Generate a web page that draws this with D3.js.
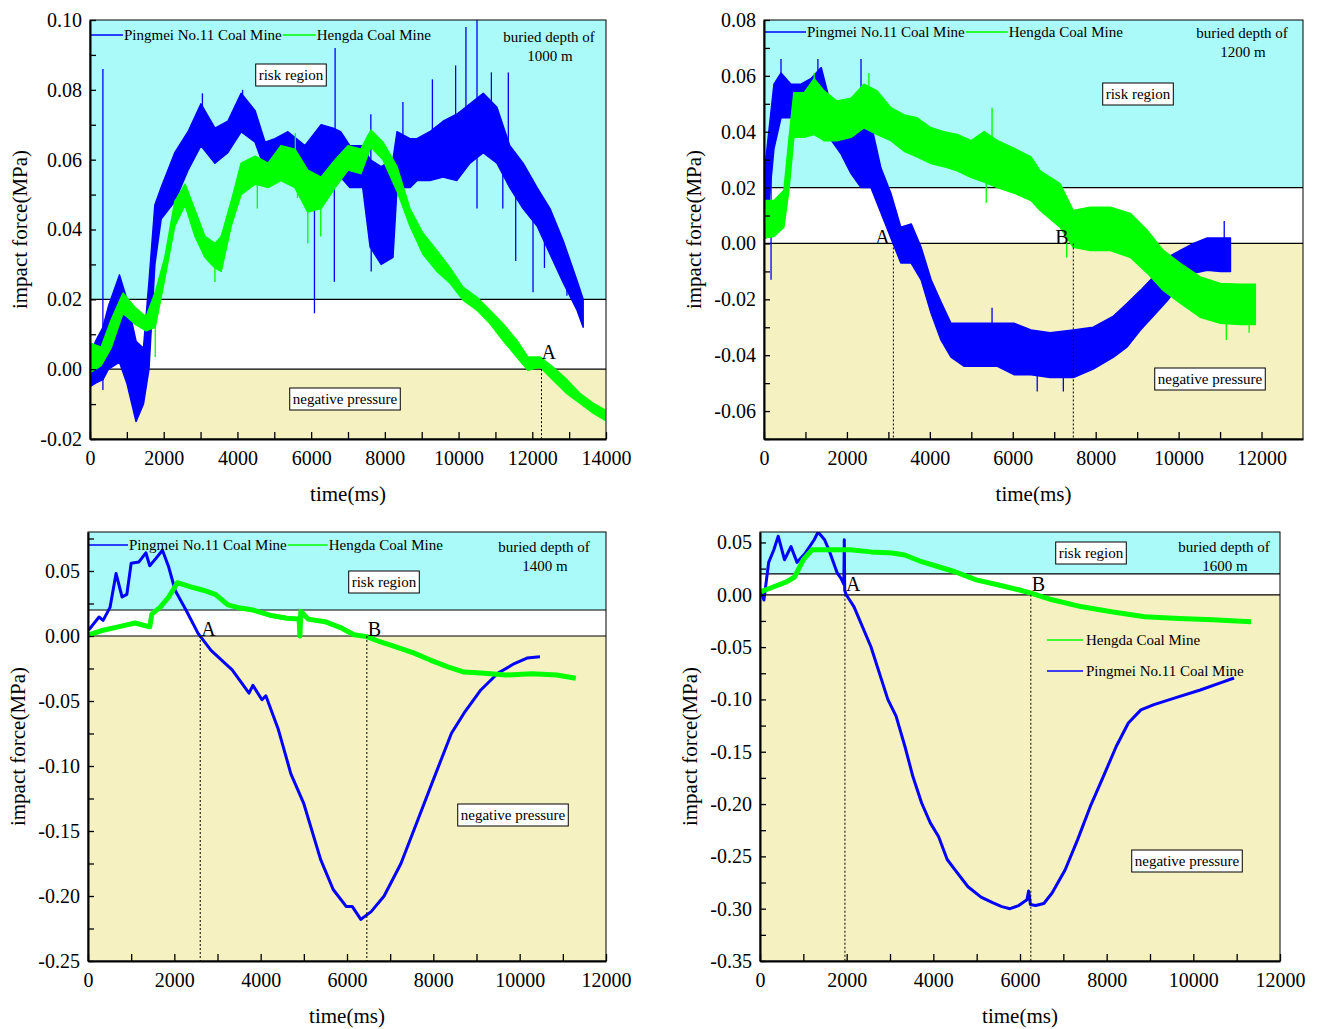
<!DOCTYPE html>
<html>
<head>
<meta charset="UTF-8">
<title>impact force</title>
<script src="https://cdn.jsdelivr.net/npm/d3@7"></script>
<style>
body { margin: 0; background: #fff; }
svg, svg text { font-family: "Times New Roman", "Liberation Serif", serif !important; }
</style>
</head>
<body>
<script>
// ---- data (time in ms, force in MPa) ----
var riskLevel = 0.02;
var seriesNames = ["Pingmei No.11 Coal Mine", "Hengda Coal Mine"];
var depthLabels = ["1000 m", "1200 m", "1400 m", "1600 m"];

// 1000 m : noisy bands (low / high edge) plus single spikes
var d1000BlueT  = [0, 150, 350, 500, 800, 1000, 1250, 1450, 1600, 1760, 1930, 2300, 2660, 3010, 3390, 3740, 4100, 4480, 4750, 5020, 5370, 5830, 6270, 6600, 6800, 7050, 7400, 7600, 7900, 8220, 8330, 8680, 8870, 9220, 9580, 9950, 10310, 10670, 11040, 11390, 11750, 12130, 12480, 12830, 13210, 13380];
var d1000BlueLo = [-0.005, -0.004, -0.003, 0.000, 0.002, -0.004, -0.015, -0.010, 0.000, 0.030, 0.043, 0.048, 0.057, 0.064, 0.059, 0.062, 0.068, 0.065, 0.057, 0.058, 0.059, 0.050, 0.055, 0.054, 0.055, 0.052, 0.052, 0.035, 0.030, 0.032, 0.052, 0.052, 0.054, 0.054, 0.055, 0.054, 0.059, 0.062, 0.059, 0.052, 0.046, 0.041, 0.033, 0.025, 0.017, 0.012];
var d1000BlueHi = [0.003, 0.008, 0.012, 0.018, 0.027, 0.020, 0.008, 0.006, 0.025, 0.047, 0.052, 0.062, 0.068, 0.076, 0.069, 0.071, 0.079, 0.074, 0.065, 0.066, 0.068, 0.064, 0.070, 0.069, 0.068, 0.064, 0.064, 0.060, 0.058, 0.060, 0.068, 0.066, 0.066, 0.068, 0.071, 0.073, 0.076, 0.079, 0.075, 0.064, 0.059, 0.052, 0.046, 0.037, 0.0255, 0.020];
var d1000BlueSpikeT = [350, 350, 3050, 4140, 6090, 6630, 6650, 7620, 7630, 8490, 9290, 9920, 10200, 10500, 10500, 10890, 11200, 11350, 11550, 12020, 12330, 12940];
var d1000BlueSpikeV = [0.086, -0.006, 0.079, 0.080, 0.016, 0.025, 0.092, 0.073, 0.028, 0.0765, 0.083, 0.087, 0.098, 0.100, 0.046, 0.085, 0.046, 0.085, 0.031, 0.022, 0.029, 0.021];
var d1000GreenT  = [0, 300, 570, 895, 1210, 1520, 1770, 2030, 2300, 2580, 2850, 3120, 3390, 3560, 3830, 4100, 4480, 4830, 5180, 5560, 5910, 6270, 6650, 7000, 7350, 7620, 7950, 8330, 8680, 9030, 9410, 9770, 10120, 10500, 10850, 11200, 11580, 11880, 12210, 12560, 12940, 13290, 13650, 13970];
var d1000GreenLo = [-0.001, 0.001, 0.006, 0.016, 0.013, 0.011, 0.012, 0.026, 0.041, 0.047, 0.038, 0.032, 0.029, 0.028, 0.041, 0.050, 0.053, 0.052, 0.054, 0.052, 0.045, 0.046, 0.052, 0.057, 0.056, 0.0636, 0.060, 0.051, 0.041, 0.033, 0.028, 0.0246, 0.0198, 0.0169, 0.0131, 0.0083, 0.0035, -0.0003, 0.0006, -0.0031, -0.007, -0.0097, -0.0126, -0.0146];
var d1000GreenHi = [0.0075, 0.0063, 0.014, 0.0218, 0.0178, 0.015, 0.022, 0.032, 0.048, 0.053, 0.0455, 0.038, 0.036, 0.038, 0.048, 0.059, 0.061, 0.059, 0.064, 0.063, 0.057, 0.055, 0.060, 0.064, 0.063, 0.0685, 0.065, 0.058, 0.046, 0.039, 0.034, 0.029, 0.0235, 0.0206, 0.0169, 0.0131, 0.0083, 0.0035, 0.0035, 0.0006, -0.003, -0.0069, -0.0097, -0.0117];
var d1000GreenSpikeT = [1770, 3390, 4540, 5570, 5630, 5910, 6260];
var d1000GreenSpikeV = [0.0035, 0.025, 0.046, 0.0676, 0.049, 0.036, 0.038];
var d1000MarkT = [12250];
var d1000MarkName = ["A"];

// 1200 m
var d1200BlueT  = [40, 240, 410, 650, 890, 1130, 1380, 1620, 1860, 2100, 2340, 2580, 2820, 3060, 3300, 3550, 3790, 4030, 4270, 4510, 4830, 5240, 5630, 6040, 6440, 6900, 7460, 7940, 8430, 8760, 9080, 9390, 9730, 10040, 10360, 10690, 11010, 11250];
var d1200BlueLo = [0.002, 0.034, 0.045, 0.045, 0.0475, 0.0475, 0.054, 0.037, 0.032, 0.025, 0.020, 0.020, 0.011, 0.002, -0.007, -0.007, -0.013, -0.025, -0.0346, -0.0407, -0.044, -0.044, -0.044, -0.047, -0.047, -0.048, -0.048, -0.045, -0.0407, -0.037, -0.031, -0.026, -0.0204, -0.0143, -0.0107, -0.0096, -0.010, -0.010];
var d1200BlueHi = [0.0296, 0.057, 0.061, 0.057, 0.057, 0.059, 0.063, 0.049, 0.044, 0.039, 0.043, 0.043, 0.027, 0.018, 0.0058, 0.007, -0.0014, -0.013, -0.021, -0.0286, -0.0286, -0.0286, -0.0286, -0.0286, -0.031, -0.032, -0.031, -0.030, -0.026, -0.0214, -0.0168, -0.012, -0.005, -0.0025, 0.000, 0.002, 0.002, 0.002];
var d1200BlueSpikeT = [170, 410, 1300, 2340, 5500, 6590, 7220, 11100];
var d1200BlueSpikeV = [-0.013, 0.066, 0.066, 0.066, -0.023, -0.053, -0.053, 0.008];
var d1200GreenT  = [40, 240, 480, 600, 720, 970, 1210, 1450, 1760, 2100, 2410, 2730, 3060, 3380, 3690, 4030, 4340, 4660, 5000, 5310, 5630, 6040, 6440, 6660, 7140, 7460, 7870, 8350, 8840, 9250, 9630, 10040, 10520, 11010, 11490, 11850];
var d1200GreenLo = [0.002, 0.0025, 0.0058, 0.019, 0.038, 0.038, 0.039, 0.0368, 0.0368, 0.038, 0.0414, 0.039, 0.0368, 0.033, 0.031, 0.0286, 0.0275, 0.026, 0.0236, 0.022, 0.020, 0.018, 0.0154, 0.0118, 0.0058, -0.0014, -0.0025, -0.0025, -0.005, -0.0107, -0.0168, -0.0214, -0.0264, -0.0286, -0.029, -0.029];
var d1200GreenHi = [0.0154, 0.0154, 0.019, 0.037, 0.054, 0.054, 0.059, 0.0546, 0.051, 0.052, 0.057, 0.0546, 0.0486, 0.046, 0.045, 0.0414, 0.040, 0.039, 0.0368, 0.040, 0.0368, 0.034, 0.031, 0.026, 0.0214, 0.0118, 0.013, 0.013, 0.0107, 0.0046, -0.0025, -0.0071, -0.012, -0.0143, -0.0146, -0.0146];
var d1200GreenSpikeT = [1210, 2530, 5360, 5500, 7300, 11150, 11700];
var d1200GreenSpikeV = [0.061, 0.061, 0.0146, 0.0486, -0.005, -0.0346, -0.032];
var d1200MarkT = [3120, 7460];
var d1200MarkName = ["A", "B"];

// 1400 m : smooth traces
var d1400BlueT = [15, 255, 350, 510, 650, 790, 900, 1000, 1180, 1340, 1430, 1570, 1725, 1870, 2020, 2270, 2550, 2850, 3340, 3730, 3820, 4030, 4120, 4410, 4700, 5000, 5390, 5680, 5980, 6120, 6320, 6560, 6860, 7250, 7640, 8030, 8420, 8710, 9100, 9500, 9890, 10170, 10470];
var d1400BlueV = [0.0046, 0.0146, 0.012, 0.022, 0.048, 0.030, 0.032, 0.056, 0.057, 0.064, 0.054, 0.0595, 0.066, 0.053, 0.035, 0.020, 0.002, -0.011, -0.026, -0.044, -0.038, -0.049, -0.046, -0.072, -0.106, -0.129, -0.172, -0.195, -0.208, -0.208, -0.218, -0.212, -0.200, -0.175, -0.1415, -0.108, -0.0748, -0.0594, -0.0415, -0.0285, -0.021, -0.017, -0.016];
var d1400GreenT = [15, 300, 700, 1090, 1430, 1480, 1670, 1870, 2070, 2360, 2650, 2950, 3240, 3530, 3820, 4210, 4610, 4890, 4910, 4930, 5100, 5490, 5880, 6160, 6460, 6760, 7150, 7540, 7930, 8320, 8710, 9100, 9690, 10280, 10860, 11300];
var d1400GreenV = [0.0008, 0.004, 0.007, 0.010, 0.007, 0.017, 0.022, 0.030, 0.041, 0.038, 0.0354, 0.032, 0.024, 0.0215, 0.020, 0.016, 0.0136, 0.013, 0.000, 0.019, 0.013, 0.011, 0.006, 0.001, -0.0005, -0.0044, -0.0085, -0.013, -0.0185, -0.0236, -0.0277, -0.0285, -0.030, -0.029, -0.030, -0.0325];
var d1400MarkT = [2600, 6460];
var d1400MarkName = ["A", "B"];

// 1600 m
var d1600BlueT = [25, 90, 200, 320, 420, 565, 715, 855, 1050, 1250, 1340, 1490, 1590, 1780, 1870, 1935, 1945, 1955, 1990, 2170, 2560, 2950, 3140, 3345, 3530, 3730, 3930, 4120, 4320, 4500, 4800, 5100, 5380, 5580, 5770, 5970, 6160, 6200, 6240, 6360, 6550, 6740, 7040, 7330, 7620, 7920, 8220, 8500, 8790, 9090, 9580, 10160, 10640, 10940];
var d1600BlueV = [0.002, -0.005, 0.031, 0.043, 0.056, 0.0335, 0.046, 0.031, 0.040, 0.0526, 0.060, 0.0526, 0.043, 0.021, 0.0156, 0.010, 0.0526, 0.004, 0.000, -0.0115, -0.0497, -0.100, -0.116, -0.145, -0.174, -0.199, -0.218, -0.231, -0.253, -0.263, -0.279, -0.289, -0.2945, -0.298, -0.300, -0.297, -0.2915, -0.283, -0.296, -0.297, -0.295, -0.285, -0.263, -0.234, -0.2025, -0.174, -0.145, -0.1225, -0.110, -0.105, -0.0985, -0.091, -0.084, -0.0795];
var d1600GreenT = [25, 320, 610, 800, 1000, 1200, 1590, 2080, 2560, 3050, 3340, 3730, 4120, 4500, 4990, 5480, 5970, 6250, 6740, 7430, 8110, 8880, 9670, 10450, 11330];
var d1600GreenV = [0.003, 0.0077, 0.0124, 0.017, 0.0335, 0.043, 0.043, 0.043, 0.041, 0.040, 0.038, 0.0316, 0.0268, 0.022, 0.0143, 0.0096, 0.0048, 0.0016, -0.0048, -0.0115, -0.0163, -0.021, -0.0226, -0.0239, -0.0258];
var d1600MarkT = [1960, 6250];
var d1600MarkName = ["A", "B"];

// axis ticks
var xTicks14000 = [0, 2000, 4000, 6000, 8000, 10000, 12000, 14000];
var xMinor14000 = [1000, 3000, 5000, 7000, 9000, 11000, 13000];
var xTicks12000 = [0, 2000, 4000, 6000, 8000, 10000, 12000];
var xMinor12000 = [1000, 3000, 5000, 7000, 9000, 11000];
var yTicks1000 = [-0.02, 0.00, 0.02, 0.04, 0.06, 0.08, 0.10];
var yMinor1000 = [-0.01, 0.01, 0.03, 0.05, 0.07, 0.09];
var yTicks1200 = [-0.06, -0.04, -0.02, 0.00, 0.02, 0.04, 0.06, 0.08];
var yMinor1200 = [-0.07, -0.05, -0.03, -0.01, 0.01, 0.03, 0.05, 0.07];
var yTicks1400 = [-0.25, -0.20, -0.15, -0.10, -0.05, 0.00, 0.05];
var yMinor1400 = [-0.225, -0.175, -0.125, -0.075, -0.025, 0.025, 0.075];
var yTicks1600 = [-0.35, -0.30, -0.25, -0.20, -0.15, -0.10, -0.05, 0.00, 0.05];
var yMinor1600 = [-0.325, -0.275, -0.225, -0.175, -0.125, -0.075, -0.025, 0.025];

var BLUE = "#0000ff", GREEN = "#00ff00";
var CYAN = "#aafafa", YELLOW = "#f5f1c0";
var SERIF = '"Times New Roman", "Liberation Serif", serif';

function zip(t, a, b){
    return t.map(function(d, i){ return {t: d, lo: a[i], hi: b ? b[i] : a[i]}; });
}
function spikes(t, v){
    return t.map(function(d, i){ return {t: d, v: v[i]}; });
}

var panels = [
    {left: 90, right: 606, top: 20, bottom: 439, xDomain: [0, 14000], yDomain: [-0.02, 0.10],
     xTicks: xTicks14000, xMinor: xMinor14000, yTicks: yTicks1000, yMinor: yMinor1000,
     band: true,
     blue: zip(d1000BlueT, d1000BlueLo, d1000BlueHi), blueSpikes: spikes(d1000BlueSpikeT, d1000BlueSpikeV),
     green: zip(d1000GreenT, d1000GreenLo, d1000GreenHi), greenSpikes: spikes(d1000GreenSpikeT, d1000GreenSpikeV),
     markT: d1000MarkT, markName: d1000MarkName, markDx: 0, markDy: -10,
     depth: depthLabels[0], depthDx: -57, depthDy: 17,
     legend: "row", legendY: 35, seg: 33,
     risk: [201, 55], neg: [255, 379]},
    {left: 764, right: 1303, top: 20, bottom: 439, xDomain: [0, 13000], yDomain: [-0.07, 0.08],
     xTicks: xTicks12000, xMinor: xMinor12000, yTicks: yTicks1200, yMinor: yMinor1200,
     band: true,
     blue: zip(d1200BlueT, d1200BlueLo, d1200BlueHi), blueSpikes: spikes(d1200BlueSpikeT, d1200BlueSpikeV),
     green: zip(d1200GreenT, d1200GreenLo, d1200GreenHi), greenSpikes: spikes(d1200GreenSpikeT, d1200GreenSpikeV),
     markT: d1200MarkT, markName: d1200MarkName, markDx: -18, markDy: 1,
     depth: depthLabels[1], depthDx: -61, depthDy: 13,
     legend: "row", legendY: 32, seg: 42,
     risk: [374, 74], neg: [446, 359]},
    {left: 88, right: 606, top: 532, bottom: 961, xDomain: [0, 12000], yDomain: [-0.25, 0.08],
     xTicks: xTicks12000, xMinor: xMinor12000, yTicks: yTicks1400, yMinor: yMinor1400,
     band: false,
     blue: zip(d1400BlueT, d1400BlueV), green: zip(d1400GreenT, d1400GreenV),
     markT: d1400MarkT, markName: d1400MarkName, markDx: 1, markDy: 0,
     depth: depthLabels[2], depthDx: -62, depthDy: 15,
     legend: "row", legendY: 545, seg: 40,
     risk: [296, 50], neg: [425, 283]},
    {left: 760, right: 1280, top: 532, bottom: 961, xDomain: [0, 12000], yDomain: [-0.35, 0.06],
     xTicks: xTicks12000, xMinor: xMinor12000, yTicks: yTicks1600, yMinor: yMinor1600,
     band: false,
     blue: zip(d1600BlueT, d1600BlueV), green: zip(d1600GreenT, d1600GreenV),
     markT: d1600MarkT, markName: d1600MarkName, markDx: 1, markDy: -4,
     depth: depthLabels[3], depthDx: -56, depthDy: 15,
     legend: "column", legendX: 1047, legendY: 640, seg: 36,
     risk: [331, 21], neg: [427, 329]}
];

var svg = d3.select("body").append("svg")
    .attr("width", 1322)
    .attr("height", 1029);
svg.append("rect").attr("width", 1322).attr("height", 1029).attr("fill", "#fff");

function fmt(v){
    var s = Math.abs(v).toFixed(2);
    return (v < -1e-9 ? "-" : "") + s;
}

function labelBox(g, cx, cy, text){
    var t = g.append("text")
        .attr("x", cx).attr("y", cy + 5)
        .attr("text-anchor", "middle")
        .style("font-family", SERIF).style("font-size", "15px")
        .text(text);
    var w = t.node().getComputedTextLength();
    g.insert("rect", function(){ return t.node(); })
        .attr("x", cx - w / 2 - 3).attr("y", cy - 11)
        .attr("width", w + 6).attr("height", 22)
        .attr("fill", "#fff").attr("stroke", "#000").attr("stroke-width", 1);
}

function drawPanel(p, idx){
    var g = svg.append("g");
    var x = d3.scaleLinear().domain(p.xDomain).range([p.left, p.right]);
    var y = d3.scaleLinear().domain(p.yDomain).range([p.bottom, p.top]);
    var w = p.right - p.left;

    // zones
    g.append("rect").attr("x", p.left).attr("y", p.top)
        .attr("width", w).attr("height", y(riskLevel) - p.top).attr("fill", CYAN);
    g.append("rect").attr("x", p.left).attr("y", y(0))
        .attr("width", w).attr("height", p.bottom - y(0)).attr("fill", YELLOW);
    [riskLevel, 0].forEach(function(v){
        g.append("line").attr("x1", p.left).attr("x2", p.right)
            .attr("y1", y(v)).attr("y2", y(v))
            .attr("stroke", "#000").attr("stroke-width", 1.2);
    });

    svg.append("clipPath").attr("id", "clip" + idx)
        .append("rect").attr("x", p.left).attr("y", p.top)
        .attr("width", w).attr("height", p.bottom - p.top);
    var plot = g.append("g").attr("clip-path", "url(#clip" + idx + ")");

    function drawSeries(data, spk, color, width){
        if(p.band){
            var area = d3.area()
                .x(function(d){ return x(d.t); })
                .y0(function(d){ return y(d.lo); })
                .y1(function(d){ return y(d.hi); });
            plot.append("path").datum(data)
                .attr("d", area)
                .attr("fill", color)
                .attr("stroke", color).attr("stroke-width", 1.5)
                .attr("stroke-linejoin", "round");
            var mid = d3.scaleLinear()
                .domain(data.map(function(d){ return d.t; }))
                .range(data.map(function(d){ return (d.lo + d.hi) / 2; }));
            plot.selectAll(null).data(spk).enter().append("line")
                .attr("x1", function(d){ return x(d.t); })
                .attr("x2", function(d){ return x(d.t); })
                .attr("y1", function(d){ return y(mid(d.t)); })
                .attr("y2", function(d){ return y(d.v); })
                .attr("stroke", color).attr("stroke-width", 1.3);
        }else{
            var line = d3.line()
                .x(function(d){ return x(d.t); })
                .y(function(d){ return y(d.lo); });
            plot.append("path").datum(data)
                .attr("d", line)
                .attr("fill", "none")
                .attr("stroke", color).attr("stroke-width", width)
                .attr("stroke-linejoin", "round");
        }
    }
    drawSeries(p.blue, p.blueSpikes || [], BLUE, 3);
    drawSeries(p.green, p.greenSpikes || [], GREEN, 5);

    // A / B markers
    p.markT.forEach(function(t, i){
        g.append("line").attr("x1", x(t)).attr("x2", x(t))
            .attr("y1", y(0)).attr("y2", p.bottom)
            .attr("stroke", "#000").attr("stroke-width", 1)
            .attr("stroke-dasharray", "2,2");
        g.append("text").attr("x", x(t) + p.markDx).attr("y", y(0) + p.markDy)
            .style("font-family", SERIF).style("font-size", "20px")
            .text(p.markName[i]);
    });

    // boxes
    labelBox(g, p.left + p.risk[0], p.top + p.risk[1], "risk region");
    labelBox(g, p.left + p.neg[0], p.top + p.neg[1], "negative pressure");

    // depth note
    var dep = g.append("text").attr("text-anchor", "middle")
        .style("font-family", SERIF).style("font-size", "15px");
    dep.append("tspan").attr("x", p.right + p.depthDx).attr("y", p.top + p.depthDy + 5).text("buried depth of");
    dep.append("tspan").attr("x", p.right + p.depthDx + 1).attr("y", p.top + p.depthDy + 24).text(p.depth);

    // legend
    var items = [[seriesNames[0], BLUE], [seriesNames[1], GREEN]];
    if(p.legend === "row"){
        var cx = p.left;
        items.forEach(function(it){
            g.append("line").attr("x1", cx).attr("x2", cx + p.seg)
                .attr("y1", p.legendY).attr("y2", p.legendY)
                .attr("stroke", it[1]).attr("stroke-width", 1.5);
            var t = g.append("text").attr("x", cx + p.seg + 1).attr("y", p.legendY + 5)
                .style("font-family", SERIF).style("font-size", "15px").text(it[0]);
            cx += p.seg + 2 + t.node().getComputedTextLength();
        });
    }else{
        [items[1], items[0]].forEach(function(it, i){
            var ly = p.legendY + i * 31;
            g.append("line").attr("x1", p.legendX).attr("x2", p.legendX + p.seg)
                .attr("y1", ly).attr("y2", ly)
                .attr("stroke", it[1]).attr("stroke-width", 1.5);
            g.append("text").attr("x", p.legendX + p.seg + 3).attr("y", ly + 5)
                .style("font-family", SERIF).style("font-size", "15px").text(it[0]);
        });
    }

    // frame
    g.append("rect").attr("x", p.left).attr("y", p.top)
        .attr("width", w).attr("height", p.bottom - p.top)
        .attr("fill", "none").attr("stroke", "#000").attr("stroke-width", 1);

    // axes (ticks inside)
    var xa = g.append("g").attr("transform", "translate(0," + p.bottom + ")")
        .call(d3.axisBottom(x).tickValues(p.xTicks).tickFormat(d3.format("d"))
            .tickSizeInner(-7).tickSizeOuter(0).tickPadding(12));
    g.append("g").attr("transform", "translate(0," + p.bottom + ")")
        .call(d3.axisBottom(x).tickValues(p.xMinor).tickFormat("")
            .tickSizeInner(-7).tickSizeOuter(0))
        .select(".domain").remove();
    var ya = g.append("g").attr("transform", "translate(" + p.left + ",0)")
        .call(d3.axisLeft(y).tickValues(p.yTicks).tickFormat(fmt)
            .tickSizeInner(-6).tickSizeOuter(0).tickPadding(8));
    g.append("g").attr("transform", "translate(" + p.left + ",0)")
        .call(d3.axisLeft(y).tickValues(p.yMinor).tickFormat("")
            .tickSizeInner(-6).tickSizeOuter(0))
        .select(".domain").remove();
    g.selectAll(".tick line").attr("stroke", "#000").attr("stroke-width", 1.3);
    [xa, ya].forEach(function(a){
        a.attr("font-family", null).attr("font-size", null);
        a.select(".domain").attr("stroke", "#000").attr("stroke-width", 2);
        a.selectAll("text")
            .style("font-family", SERIF).style("font-size", "20px")
            .attr("fill", "#000");
    });

    // titles
    g.append("text").attr("x", (p.left + p.right) / 2).attr("y", p.bottom + 62)
        .attr("text-anchor", "middle")
        .style("font-family", SERIF).style("font-size", "21px").text("time(ms)");
    g.append("text")
        .attr("transform", "translate(" + (p.left - 63) + "," + ((p.top + p.bottom) / 2) + ") rotate(-90)")
        .attr("text-anchor", "middle")
        .style("font-family", SERIF).style("font-size", "21px").text("impact force(MPa)");
}

panels.forEach(drawPanel);
</script>
</body>
</html>
